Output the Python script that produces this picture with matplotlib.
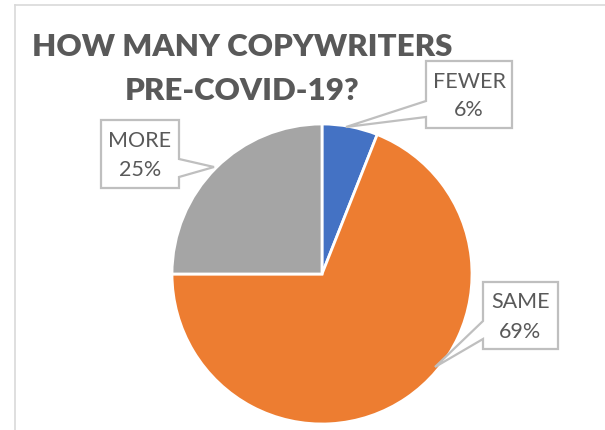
import matplotlib
matplotlib.use("Agg")
import matplotlib.pyplot as plt
from matplotlib.patches import Polygon
from matplotlib.lines import Line2D

# ---- data ----
categories = ["FEWER", "SAME", "MORE"]
values = [6, 69, 25]
colors = ["#4472C4", "#ED7D31", "#A5A5A5"]
title_lines = ["HOW MANY COPYWRITERS", "PRE-COVID-19?"]

W, H = 605, 431
fig = plt.figure(figsize=(W / 100, H / 100), dpi=100)
ax = fig.add_axes([0, 0, 1, 1])

def Y(y):
    return H - y

# chart border (top and left visible)
fig.add_artist(Line2D([15 / W, 1], [Y(5.5) / H, Y(5.5) / H], color="#D9D9D9", lw=1.2))
fig.add_artist(Line2D([15 / W, 15 / W], [Y(5.5) / H, 0], color="#D9D9D9", lw=1.2))

# pie
cx, cy, r = 322, 275, 150
ax.pie(values, colors=colors, startangle=90, counterclock=False,
       center=(cx, Y(cy)), radius=r, frame=True,
       wedgeprops=dict(edgecolor="white", linewidth=2))
ax.set_xlim(0, W)
ax.set_ylim(0, H)
ax.set_aspect("equal")
ax.axis("off")

# title
title_kw = dict(fontfamily="Lato", fontweight="heavy", color="#595959",
                fontsize=22.5, ha="center", va="center")
ax.text(242, Y(47), title_lines[0], **title_kw)
ax.text(242, Y(91), title_lines[1], **title_kw)

# callouts: box (x0, y0, x1, y1), notch side, notch range, tip
callouts = [
    dict(box=(426, 62, 512, 129), side="left", n=(102, 118), tip=(346, 128)),
    dict(box=(483, 283, 558, 350), side="left", n=(322, 340), tip=(435, 368)),
    dict(box=(101, 121, 179, 189), side="right", n=(160, 178), tip=(214, 168)),
]

for cat, val, c in zip(categories, values, callouts):
    x0, y0, x1, y1 = c["box"]
    n0, n1 = c["n"]
    tx, ty = c["tip"]
    if c["side"] == "left":
        pts = [(x0, y0), (x1, y0), (x1, y1), (x0, y1), (x0, n1), (tx, ty), (x0, n0)]
    else:
        pts = [(x0, y0), (x1, y0), (x1, n0), (tx, ty), (x1, n1), (x1, y1), (x0, y1)]
    poly = Polygon([(px, Y(py)) for px, py in pts], closed=True,
                   facecolor="white", edgecolor="#BFBFBF", lw=1.6, zorder=5)
    ax.add_patch(poly)
    mx = (x0 + x1) / 2
    my = (y0 + y1) / 2
    lab_kw = dict(fontfamily="Lato", color="#595959", fontsize=15.5,
                  ha="center", va="center", zorder=6)
    ax.text(mx, Y(my - 14), cat, **lab_kw)
    ax.text(mx, Y(my + 15), f"{val}%", **lab_kw)

fig.savefig("out.png", dpi=100, facecolor="white")
